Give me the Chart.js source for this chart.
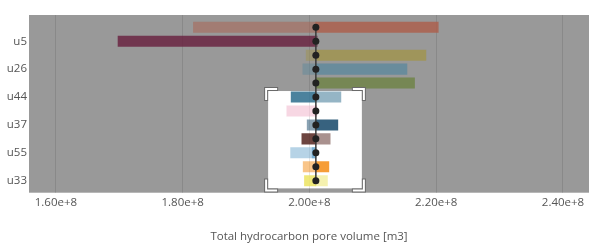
<!DOCTYPE html>
<html><head><meta charset="utf-8">
<script src="https://cdn.jsdelivr.net/npm/chart.js@4"></script>
<style>html,body{margin:0;padding:0;background:#fff}#wrap{width:601px;height:248px;position:relative}</style>
</head><body><div id="wrap"><canvas id="c"></canvas></div>
<script>
// Sensitivity rows, top to bottom (only every other name is shown on the axis)
const categories = ['', 'u5', '', 'u26', '', 'u44', '', 'u37', '', 'u55', '', 'u33'];
const refValue = 2.0101e8;
const highValues = [2.2032e8, 1.6980e8, 2.1837e8, 2.1538e8, 2.1658e8, 1.9711e8, 2.0115e8, 2.0448e8, 1.9880e8, 2.0043e8, 2.0306e8, 1.9921e8];
const lowValues  = [1.8169e8, 2.0125e8, 1.9948e8, 1.9896e8, 2.0095e8, 2.0496e8, 1.9643e8, 1.9964e8, 2.0327e8, 1.9703e8, 1.9901e8, 2.0284e8];
const xTickValues = [1.6e8, 1.8e8, 2.0e8, 2.2e8, 2.4e8];
const xTitle = 'Total hydrocarbon pore volume [m3]';

const baseColors = [
  [172, 96, 78], [106, 36, 66], [160, 148, 80], [96, 138, 156], [112, 132, 72], [44, 108, 140],
  [240, 176, 200], [20, 70, 104], [84, 36, 30], [110, 168, 206], [244, 140, 20], [236, 228, 96]
];
const rgba = (c, a) => `rgba(${c[0]},${c[1]},${c[2]},${a})`;

Chart.defaults.font.family = "'Open Sans', sans-serif";
Chart.defaults.font.size = 11.5;
Chart.defaults.color = '#555';

const bgPlugin = {
  id: 'bg',
  beforeDraw(chart) {
    const {ctx, chartArea: a, scales: {x, y}} = chart;
    ctx.save();
    ctx.fillStyle = '#999999';
    ctx.fillRect(a.left, a.top, a.right - a.left, a.bottom - a.top);
    const l = x.getPixelForValue(1.9348e8), r = x.getPixelForValue(2.0827e8);
    const t = y.getPixelForValue(4.57), b = y.getPixelForValue(11.55);
    ctx.fillStyle = '#ffffff';
    ctx.fillRect(l, t, r - l, b - t);
    ctx.restore();
  },
  afterDraw(chart) {
    const {ctx, scales: {x, y}} = chart;
    const l = x.getPixelForValue(1.9348e8) - 2, r = x.getPixelForValue(2.0827e8) + 2;
    const t = y.getPixelForValue(4.57) - 2, b = y.getPixelForValue(11.55) + 2;
    const s = 10;
    const corners = [
      [[l, t + s], [l, t], [l + s, t]],
      [[r - s, t], [r, t], [r, t + s]],
      [[l, b - s], [l, b], [l + s, b]],
      [[r - s, b], [r, b], [r, b - s]]
    ];
    ctx.save();
    ctx.lineJoin = 'miter';
    ctx.lineCap = 'square';
    for (const [w, col] of [[4, '#6a6a6a'], [2, '#ffffff']]) {
      ctx.lineWidth = w; ctx.strokeStyle = col;
      for (const c of corners) {
        ctx.beginPath(); ctx.moveTo(c[0][0], c[0][1]); ctx.lineTo(c[1][0], c[1][1]); ctx.lineTo(c[2][0], c[2][1]); ctx.stroke();
      }
    }
    ctx.restore();
  }
};

new Chart(document.getElementById('c'), {
  data: {
    datasets: [
      {
        type: 'line', order: 0,
        data: categories.map((_, i) => ({x: refValue, y: i})),
        borderColor: '#3a3a3a', borderWidth: 1.5,
        pointRadius: 3.5, pointBackgroundColor: '#222', pointBorderColor: '#222', pointBorderWidth: 0
      },
      {
        type: 'bar', order: 1, grouped: false, barThickness: 10.4,
        data: highValues.map((v, i) => ({x: [refValue, v], y: i})),
        backgroundColor: baseColors.map(c => rgba(c, 0.85))
      },
      {
        type: 'bar', order: 2, grouped: false, barThickness: 10.4,
        data: lowValues.map((v, i) => ({x: [refValue, v], y: i})),
        backgroundColor: baseColors.map(c => rgba(c, 0.5))
      }
    ]
  },
  options: {
    indexAxis: 'y',
    animation: false,
    responsive: true,
    maintainAspectRatio: false,
    layout: {padding: {top: 15, right: 12, left: 0, bottom: 0}},
    plugins: {legend: {display: false}, tooltip: {enabled: false}},
    scales: {
      x: {
        type: 'linear', min: 1.55754e8, max: 2.44104e8, offset: false,
        afterBuildTicks: s => { s.ticks = xTickValues.map(v => ({value: v})); },
        ticks: {callback: v => Number(v).toExponential(2), padding: 3, maxRotation: 0},
        grid: {color: 'rgba(0,0,0,0.1)', drawTicks: false},
        border: {display: false},
        title: {display: true, text: xTitle, padding: {top: 18, bottom: 4}},
        afterFit: s => { s.height = 55.3; }
      },
      y: {
        type: 'linear', reverse: true, min: -0.882, max: 11.86, offset: false,
        afterBuildTicks: s => { s.ticks = categories.map((c, i) => ({value: i})).filter(t => categories[t.value]); },
        ticks: {callback: v => categories[v], padding: 2, autoSkip: false},
        grid: {display: false, drawTicks: false},
        border: {display: false},
        afterFit: s => { s.width = 29; }
      }
    }
  },
  plugins: [bgPlugin]
});
</script></body></html>
